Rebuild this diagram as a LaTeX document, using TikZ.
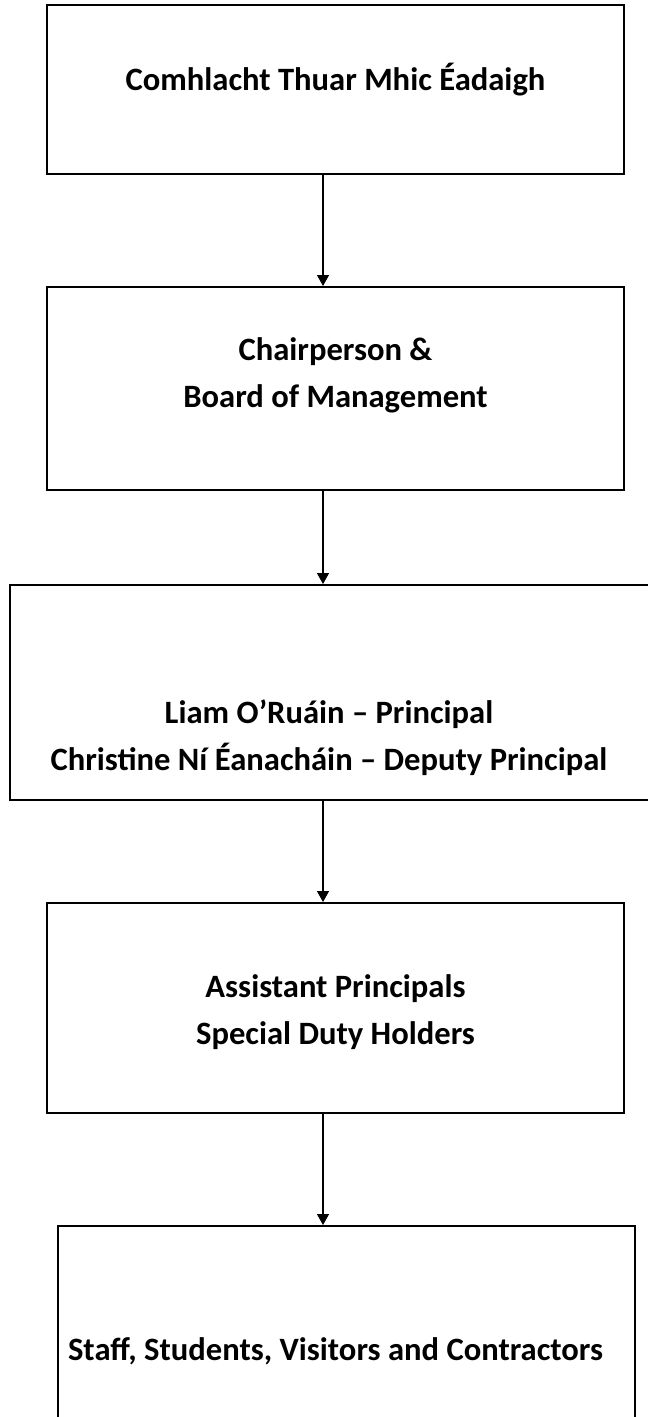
\documentclass[tikz,border=0pt]{standalone}
\usepackage{fontspec}
\setmainfont{Carlito}
\usetikzlibrary{arrows.meta}
\tikzset{
  orgbox/.style={draw, line width=2pt, minimum width=577pt, inner sep=0pt},
  orgtext/.style={font=\fontsize{32.6}{47}\selectfont\bfseries, align=center},
  down/.style={line width=1.3pt, -{Triangle[width=12pt,length=11pt]}}
}
\begin{document}
\begin{tikzpicture}[x=1pt,y=-1pt]
\clip (0,0) rectangle (648,1417);
\coordinate (ax) at (323,0);
% boxes
\node[orgbox, minimum height=169pt] (b1) at (335.5,89.5) {};
\node[orgbox, minimum height=203pt] (b2) at (335.5,388.5) {};
\node[orgbox, minimum width=650pt, minimum height=215pt] (b3) at (335,692.5) {};
\node[orgbox, minimum height=210pt] (b4) at (335.5,1008) {};
\node[orgbox, minimum height=214pt] (b5) at (346.5,1333) {};
% texts
\node[orgtext] (t1) at (335.5,80) {Comhlacht Thuar Mhic Éadaigh};
\node[orgtext] (t2) at (335.5,375) {Chairperson \&\\Board of Management};
\node[orgtext] (t3) at (329,738) {Liam O’Ruáin – Principal\\Christine Ní Éanacháin – Deputy Principal};
\node[orgtext] (t4) at (335.5,1012) {Assistant Principals\\Special Duty Holders};
\node[orgtext] (t5) at (335.5,1351) {Staff, Students, Visitors and Contractors};
% arrows
\draw[down] (b1.south -| ax) -- (b2.north -| ax);
\draw[down] (b2.south -| ax) -- (b3.north -| ax);
\draw[down] (b3.south -| ax) -- (b4.north -| ax);
\draw[down] (b4.south -| ax) -- (b5.north -| ax);
\end{tikzpicture}
\end{document}
